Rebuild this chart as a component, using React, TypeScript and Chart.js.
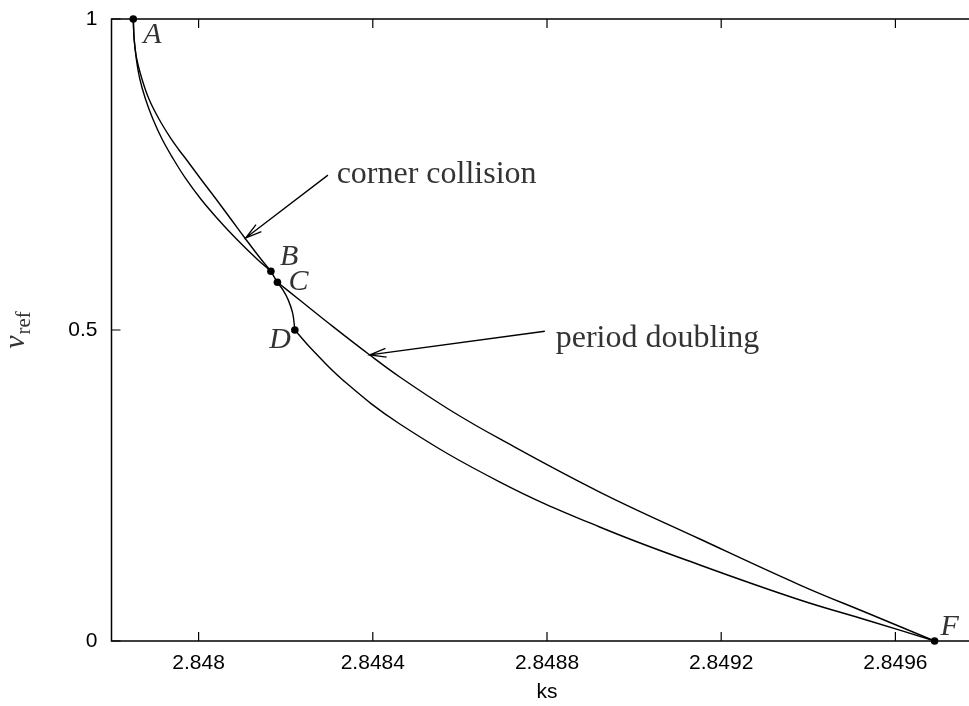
import React, { useEffect, useRef } from 'react';
import { Chart, registerables } from 'chart.js';

Chart.register(...registerables);

// ---- axis ranges & ticks ----
const X_MIN = 2.8478;
const X_MAX = 2.8498;
const xTicks = [2.848, 2.8484, 2.8488, 2.8492, 2.8496];
const yTicks = [0, 0.5, 1];

// ---- curve A -> B (outer / left branch) ----
const leftKs = [2.84785, 2.847852, 2.847857, 2.847865, 2.847878, 2.847895, 2.847916, 2.847942, 2.847971, 2.848005, 2.848044, 2.848087, 2.848134, 2.848166];
const leftV = [1, 0.9678, 0.9357, 0.9035, 0.8714, 0.8392, 0.8071, 0.7749, 0.7428, 0.7106, 0.6785, 0.6463, 0.6141, 0.5944];

// ---- curve A -> B (corner collision branch) ----
const cornerKs = [2.84785, 2.847852, 2.847858, 2.84787, 2.847886, 2.847909, 2.847937, 2.847955, 2.847971, 2.848005, 2.84804, 2.848074, 2.848108, 2.848143, 2.848166];
const cornerV = [1, 0.9678, 0.9357, 0.9035, 0.8714, 0.8392, 0.8071, 0.7894, 0.7749, 0.7428, 0.7106, 0.6785, 0.6463, 0.6141, 0.5944];

// ---- B -> C -> D ----
const bcdKs = [2.848166, 2.848181, 2.848194, 2.848206, 2.848216, 2.848221];
const bcdV = [0.5944, 0.5767, 0.564, 0.548, 0.527, 0.5];

// ---- C -> F (upper, period doubling) ----
const upperKs = [2.848181, 2.848232, 2.848301, 2.848393, 2.848462, 2.848577, 2.848692, 2.848921, 2.849151, 2.849381, 2.849541, 2.84969];
const upperV = [0.5767, 0.5482, 0.5096, 0.4598, 0.4244, 0.3714, 0.3248, 0.2395, 0.164, 0.09, 0.0434, 0];

// ---- D -> F (lower) ----
const lowerKs = [2.848221, 2.848255, 2.848331, 2.848462, 2.848692, 2.848921, 2.849151, 2.849381, 2.849541, 2.84969];
const lowerV = [0.5, 0.4727, 0.4196, 0.3489, 0.2556, 0.1833, 0.1222, 0.0659, 0.0322, 0];

// ---- labelled points ----
const pointNames = ['A', 'B', 'C', 'D', 'F'];
const pointKs = [2.84785, 2.848166, 2.848181, 2.848221, 2.84969];
const pointV = [1, 0.5944, 0.5767, 0.5, 0];

// ---- annotations (data coordinates) ----
const cornerText = 'corner collision';
const cornerTextAt = [2.848317, 0.736];
const cornerArrowFrom = [2.848297, 0.749];
const cornerArrowTo = [2.848108, 0.6479];

const periodText = 'period doubling';
const periodTextAt = [2.84882, 0.4727];
const periodArrowFrom = [2.848795, 0.498];
const periodArrowTo = [2.848393, 0.46];

// ---- styling (pixels) ----
const labelStyle: Record<string, { dx: number; dy: number; align: CanvasTextAlign }> = {
  A: { dx: 10, dy: 24, align: 'left' },
  B: { dx: 9, dy: -6, align: 'left' },
  C: { dx: 11, dy: 8, align: 'left' },
  D: { dx: -4, dy: 18, align: 'right' },
  F: { dx: 6, dy: -6, align: 'left' },
};

const SANS = '"Liberation Sans", Arial, Helvetica, sans-serif';
const SERIF = '"Liberation Serif", "Times New Roman", serif';
const TEXT_GREY = '#333';

const toXY = (xs: number[], ys: number[]) => xs.map((x, i) => ({ x, y: ys[i] }));

function drawArrow(ctx: CanvasRenderingContext2D, x1: number, y1: number, x2: number, y2: number) {
  const ang = Math.atan2(y1 - y2, x1 - x2);
  const len = 17;
  const half = (15 * Math.PI) / 180;
  ctx.beginPath();
  ctx.moveTo(x1, y1);
  ctx.lineTo(x2, y2);
  ctx.moveTo(x2 + len * Math.cos(ang + half), y2 + len * Math.sin(ang + half));
  ctx.lineTo(x2, y2);
  ctx.lineTo(x2 + len * Math.cos(ang - half), y2 + len * Math.sin(ang - half));
  ctx.stroke();
}

const framePlugin = {
  id: 'frame',
  beforeDatasetsDraw(chart: any) {
    const { ctx, chartArea: a, scales } = chart;
    ctx.save();
    ctx.strokeStyle = '#000';
    ctx.lineWidth = 1.5;
    ctx.strokeRect(a.left, a.top, a.right - a.left, a.bottom - a.top);
    const tl = 9;
    ctx.lineWidth = 1.2;
    ctx.beginPath();
    xTicks.forEach((v) => {
      const px = scales.x.getPixelForValue(v);
      ctx.moveTo(px, a.bottom);
      ctx.lineTo(px, a.bottom - tl);
      ctx.moveTo(px, a.top);
      ctx.lineTo(px, a.top + tl);
    });
    yTicks.forEach((v) => {
      const py = scales.y.getPixelForValue(v);
      ctx.moveTo(a.left, py);
      ctx.lineTo(a.left + tl, py);
      ctx.moveTo(a.right, py);
      ctx.lineTo(a.right - tl, py);
    });
    ctx.stroke();
    ctx.restore();
  },
  afterDraw(chart: any) {
    const { ctx, chartArea: a, scales } = chart;
    const X = (v: number) => scales.x.getPixelForValue(v);
    const Y = (v: number) => scales.y.getPixelForValue(v);
    ctx.save();

    // point labels
    ctx.fillStyle = TEXT_GREY;
    ctx.font = `italic 30px ${SERIF}`;
    ctx.textBaseline = 'alphabetic';
    pointNames.forEach((n, i) => {
      const st = labelStyle[n];
      ctx.textAlign = st.align;
      ctx.fillText(n, X(pointKs[i]) + st.dx, Y(pointV[i]) + st.dy);
    });

    // annotations
    ctx.textAlign = 'left';
    ctx.font = `32px ${SERIF}`;
    ctx.fillText(cornerText, X(cornerTextAt[0]), Y(cornerTextAt[1]));
    ctx.fillText(periodText, X(periodTextAt[0]), Y(periodTextAt[1]));
    ctx.strokeStyle = '#000';
    ctx.lineWidth = 1.3;
    drawArrow(ctx, X(cornerArrowFrom[0]), Y(cornerArrowFrom[1]), X(cornerArrowTo[0]), Y(cornerArrowTo[1]));
    drawArrow(ctx, X(periodArrowFrom[0]), Y(periodArrowFrom[1]), X(periodArrowTo[0]), Y(periodArrowTo[1]));

    // y-axis title v_ref
    const midY = (a.top + a.bottom) / 2;
    ctx.translate(24, midY);
    ctx.rotate(-Math.PI / 2);
    ctx.font = `italic 30px ${SERIF}`;
    const vw = ctx.measureText('v').width;
    ctx.font = `21px ${SERIF}`;
    const rw = ctx.measureText('ref').width;
    const total = vw + 1 + rw;
    ctx.textAlign = 'left';
    ctx.font = `italic 30px ${SERIF}`;
    ctx.fillText('v', -total / 2, 0);
    ctx.font = `21px ${SERIF}`;
    ctx.fillText('ref', -total / 2 + vw + 1, 6);
    ctx.restore();
  },
};

export default function App() {
  const ref = useRef<HTMLCanvasElement>(null);

  useEffect(() => {
    if (!ref.current) return;
    const lineDs = (label: string, xs: number[], ys: number[]) => ({
      label,
      data: toXY(xs, ys),
      showLine: true,
      borderColor: '#000',
      borderWidth: 1.4,
      pointRadius: 0,
      fill: false,
      tension: 0.4,
    });

    const zeroPad = (s: any) => {
      s.paddingTop = 0;
      s.paddingBottom = 0;
      s.paddingLeft = 0;
      s.paddingRight = 0;
    };

    const chart = new Chart(ref.current, {
      type: 'scatter',
      data: {
        datasets: [
          lineDs('A-B outer', leftKs, leftV),
          lineDs('corner collision', cornerKs, cornerV),
          lineDs('B-C-D', bcdKs, bcdV),
          lineDs('period doubling', upperKs, upperV),
          lineDs('D-F', lowerKs, lowerV),
          {
            label: 'points',
            data: toXY(pointKs, pointV),
            showLine: false,
            pointRadius: 3.8,
            pointBackgroundColor: '#000',
            pointBorderColor: '#000',
            pointBorderWidth: 0,
            clip: false as any,
          } as any,
        ],
      },
      options: {
        animation: false,
        responsive: false,
        devicePixelRatio: 1,
        layout: { padding: { left: 0, top: 19, right: 17.5, bottom: 0 } },
        plugins: {
          legend: { display: false },
          tooltip: { enabled: false },
        },
        scales: {
          x: {
            type: 'linear',
            min: X_MIN,
            max: X_MAX,
            afterBuildTicks: (s: any) => {
              s.ticks = xTicks.map((v) => ({ value: v }));
            },
            afterFit: (s: any) => {
              s.height = 65;
              zeroPad(s);
            },
            grid: { display: false, drawTicks: false },
            border: { display: false },
            ticks: {
              autoSkip: false,
              maxRotation: 0,
              padding: 10,
              color: '#000',
              font: { family: SANS, size: 21 },
              callback: (v: any) => String(v),
            },
            title: {
              display: true,
              text: 'ks',
              color: '#000',
              font: { family: SANS, size: 21 },
              padding: { top: 0, bottom: 1 },
            },
          },
          y: {
            type: 'linear',
            min: 0,
            max: 1,
            afterBuildTicks: (s: any) => {
              s.ticks = yTicks.map((v) => ({ value: v }));
            },
            afterFit: (s: any) => {
              s.width = 111.5;
              zeroPad(s);
            },
            grid: { display: false, drawTicks: false },
            border: { display: false },
            ticks: {
              padding: 14,
              color: '#000',
              font: { family: SANS, size: 21 },
              callback: (v: any) => String(v),
            },
          },
        },
      },
      plugins: [framePlugin],
    } as any);

    return () => chart.destroy();
  }, []);

  return (
    <div
      style={{
        position: 'fixed',
        left: 0,
        top: 0,
        width: 969,
        height: 706,
        overflow: 'hidden',
        background: '#fff',
      }}
    >
      <canvas ref={ref} width={1000} height={706} style={{ display: 'block' }} />
    </div>
  );
}
